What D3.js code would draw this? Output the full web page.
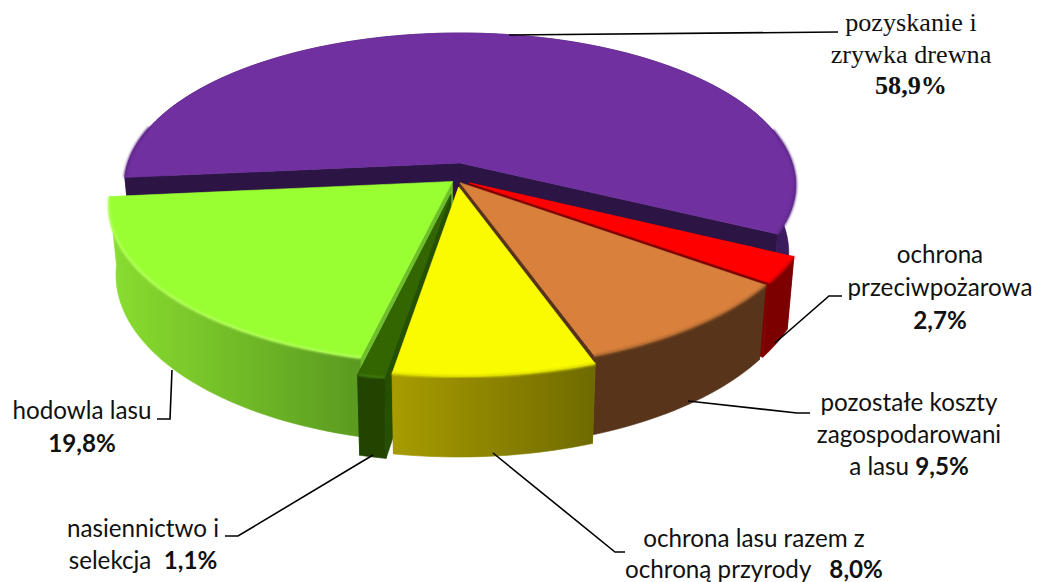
<!DOCTYPE html>
<html>
<head>
<meta charset="utf-8">
<script src="https://cdn.jsdelivr.net/npm/d3@7"></script>
<style>
    html, body { margin: 0; padding: 0; background: #fff; overflow: hidden; }
    text { white-space: pre; fill: #111; }
</style>
</head>
<body>
<div id="chart"></div>
<script>
const categoryLines = [
    ["pozyskanie i", "zrywka drewna"],
    ["ochrona", "przeciwpożarowa"],
    ["pozostałe koszty", "zagospodarowani", "a lasu "],
    ["ochrona lasu razem z", "ochroną przyrody   "],
    ["nasiennictwo i", "selekcja  "],
    ["hodowla lasu"]
];
const shares = [58.9, 2.7, 9.5, 8.0, 1.1, 19.8];
const percentInline = [false, false, true, true, true, false];

const topColors = ["#7030a0", "#ff0000", "#d8803c", "#fbfb00", "#336600", "#99ff33"];
const rimColors = ["#5b2785", "#e00000", "#a8652e", "#d8d800", "#3f7a10", "#b4ff5c"];
const cutColors = ["#2c1545", "#800000", "#57331a", "#8a8400", "#245000", "#6fbe2b"];
const wallLeft = ["#3b1a5e", "#7d0000", "#58341a", "#a89c00", "#224400", "#8ade30"];
const wallRight = ["#3b1a5e", "#7d0000", "#58341a", "#6f6a00", "#224400", "#5a9a20"];

// slice pull-out on the disc plane [x, z], purple stays put
const pulls = [[0, 0], [0.027, 0.13], [0, 0.13], [-0.004, 0.158], [-0.027, 0.207], [-0.022, 0.122]];
const radii = [1, 1, 1.02, 1.03, 1, 1.005];
// back to front
const drawOrder = [0, 1, 5, 2, 4, 3];

// leader lines
const leaders = [
    [[509, 35], [838, 32]],
    [[775, 343], [829, 296], [842, 296]],
    [[688, 401], [797, 413], [810, 413]],
    [[493, 453], [615, 552], [625, 552]],
    [[373, 455], [238, 536], [225, 536]],
    [[172, 370], [170, 419], [157, 419]]
];
const labelPos = [
    { x: 911, y: [31, 63, 94], serif: true },
    { x: 940, y: [263, 296, 329] },
    { x: 909, y: [411, 443, 475] },
    { x: 754, y: [547, 578] },
    { x: 143, y: [537, 569] },
    { x: 82, y: [419, 452] }
];

const width = 1037, height = 582;
const cx = 460, cy = 163;
const A = 332, B = 148.8, k = 0.1447, wallH = 66.7, shrink = 0.98;
const startDeg = 264.5;

function project(x, z) {
    const w = 1 - k * z;
    return [cx + A * x / w, cy + B * z / w];
}
function projectBottom(x, z) {
    const w = 1 - k * z;
    const p = project(x, z);
    return [cx + (p[0] - cx) * shrink, p[1] + wallH / w];
}
// disc point for angle measured clockwise from the back of the pie
function disc(angle, pull, r) {
    return [pull[0] + r * Math.sin(angle), pull[1] - r * Math.cos(angle)];
}

const svg = d3.select("#chart").append("svg")
    .attr("width", width)
    .attr("height", height)
    .style("display", "block");

const defs = svg.append("defs");
defs.append("filter").attr("id", "soft")
    .attr("x", "-10%").attr("y", "-10%").attr("width", "120%").attr("height", "120%")
    .append("feGaussianBlur").attr("stdDeviation", 0.9);

const startRad = startDeg * Math.PI / 180;
const pie = d3.pie().sort(null).startAngle(startRad).endAngle(startRad + 2 * Math.PI);
const arcs = pie(shares);
const line = d3.line();
const rimLine = d3.line()
    .defined(p => p[1] > -0.25)
    .x(p => project(p[0], p[1])[0])
    .y(p => project(p[0], p[1])[1]);

function face(g, pts, color) {
    g.append("path")
        .attr("d", line(pts) + "Z")
        .attr("fill", color)
        .attr("stroke", color)
        .attr("stroke-width", 0.6)
        .attr("stroke-linejoin", "round");
}

drawOrder.forEach(i => {
    const a = arcs[i], pull = pulls[i], r = radii[i];
    const g = svg.append("g").attr("class", "slice");
    const steps = d3.range(0, 1.0001, 1 / Math.max(4, Math.ceil((a.endAngle - a.startAngle) * 40)))
        .map(t => a.startAngle + t * (a.endAngle - a.startAngle));
    const rimPts = steps.map(t => disc(t, pull, r));

    const gradId = "wall" + i;
    const xs = rimPts.map(p => project(p[0], p[1])[0]);
    const grad = defs.append("linearGradient").attr("id", gradId)
        .attr("gradientUnits", "userSpaceOnUse")
        .attr("x1", d3.min(xs)).attr("x2", d3.max(xs)).attr("y1", 0).attr("y2", 0);
    grad.append("stop").attr("offset", 0).attr("stop-color", wallLeft[i]);
    grad.append("stop").attr("offset", 1).attr("stop-color", wallRight[i]);

    const drawWall = () => face(g, rimPts.map(p => project(p[0], p[1]))
        .concat(rimPts.slice().reverse().map(p => projectBottom(p[0], p[1]))), "url(#" + gradId + ")");

    // purple is seen from behind its cuts, so its wall goes underneath
    if (i === 0) drawWall();

    // cut faces, the far left end of the green slice is never seen
    const ends = i === 5 ? [rimPts[0]] : [rimPts[0], rimPts[rimPts.length - 1]];
    ends.forEach(p => {
        face(g, [
            project(pull[0], pull[1]),
            project(p[0], p[1]),
            projectBottom(p[0], p[1]),
            projectBottom(pull[0], pull[1])
        ], cutColors[i]);
    });

    if (i !== 0) drawWall();

    // top
    face(g, [project(pull[0], pull[1])].concat(rimPts.map(p => project(p[0], p[1]))), topColors[i]);

    // soft rim where top meets wall, only on the near side
    g.append("path")
        .attr("d", rimLine(rimPts))
        .attr("fill", "none")
        .attr("stroke", rimColors[i])
        .attr("stroke-width", 2.4)
        .attr("filter", "url(#soft)");
});

svg.append("g").selectAll("path").data(leaders).join("path")
    .attr("d", d => line(d))
    .attr("fill", "none")
    .attr("stroke", "#000")
    .attr("stroke-width", 1.6);

const fmt = d3.format(".1f");
const labels = svg.append("g");
categoryLines.forEach((lines, i) => {
    const pos = labelPos[i];
    const pct = fmt(shares[i]).replace(".", ",") + "%";
    const size = pos.serif ? 26.2 : 24.2;
    const family = pos.serif ? "'Liberation Serif', serif" : "Lato, sans-serif";
    lines.forEach((txt, j) => {
        const t = labels.append("text")
            .attr("x", pos.x)
            .attr("y", pos.y[j])
            .attr("text-anchor", "middle")
            .style("font-family", family)
            .style("font-size", size + "px")
            .text(txt);
        if (percentInline[i] && j === lines.length - 1) {
            t.append("tspan").style("font-weight", "bold").text(pct);
        }
    });
    if (!percentInline[i]) {
        labels.append("text")
            .attr("x", pos.x)
            .attr("y", pos.y[lines.length])
            .attr("text-anchor", "middle")
            .style("font-family", family)
            .style("font-size", size + "px")
            .style("font-weight", "bold")
            .text(pct);
    }
});
</script>
</body>
</html>
